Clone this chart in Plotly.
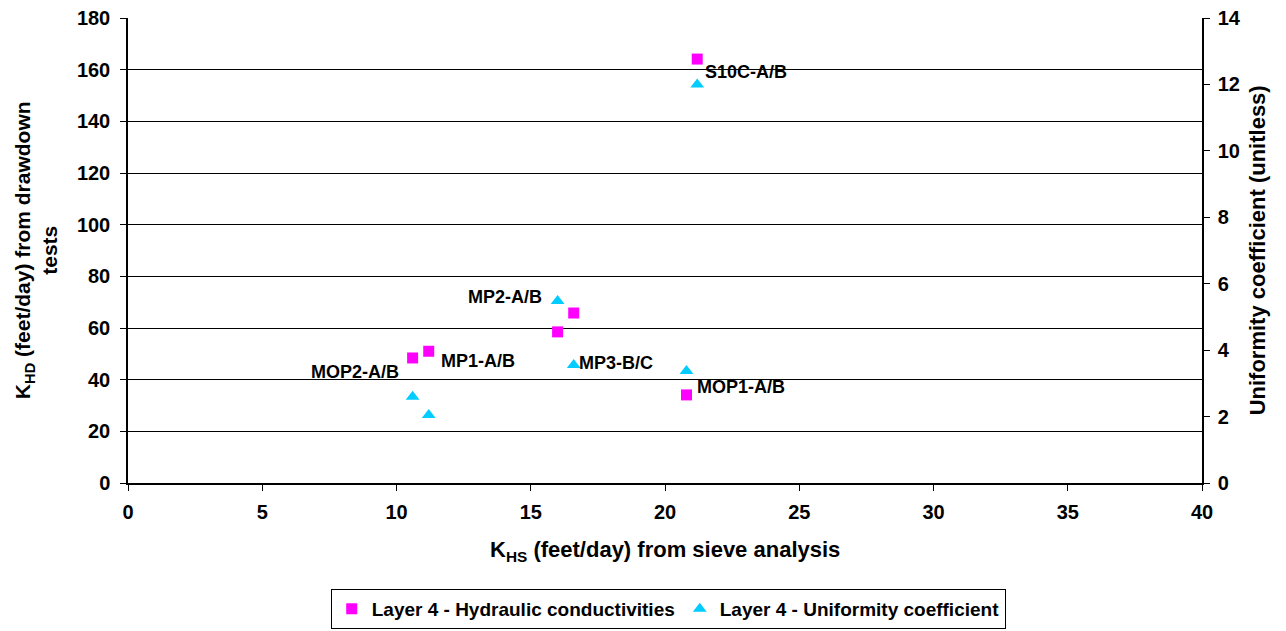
import plotly.graph_objects as go

# K_HS from sieve analysis (feet/day)
khs = [10.6, 11.2, 16.0, 16.6, 20.8, 21.2]
# K_HD from drawdown tests (feet/day)
khd = [48.4, 51.0, 58.5, 65.8, 34.1, 164.1]
# uniformity coefficient (unitless)
uc = [2.6, 2.05, 5.48, 3.55, 3.37, 12.0]
well_names = ["MOP2-A/B", "MP1-A/B", "MP2-A/B", "MP3-B/C", "MOP1-A/B", "S10C-A/B"]

FONT = "Liberation Sans, Arial, sans-serif"

fig = go.Figure()
fig.add_trace(go.Scatter(
    x=khs, y=khd, mode="markers",
    name="Layer 4 - Hydraulic conductivities",
    marker=dict(symbol="square", size=11, color="#ff00ff"),
))
fig.add_trace(go.Scatter(
    x=khs, y=uc, mode="markers", yaxis="y2",
    name="Layer 4 - Uniformity coefficient",
    marker=dict(symbol="triangle-up", size=12, color="#00ccff"),
))

# label placement: (series axis, xanchor, xshift, yshift)
label_pos = [
    ("y", "right", -12, -14),
    ("y", "left", 10, -10),
    ("y2", "right", -14, 4),
    ("y2", "left", 3, 2),
    ("y", "left", 9, 8),
    ("y", "left", 6, -13),
]
for i, name in enumerate(well_names):
    ax, anchor, dx, dy = label_pos[i]
    fig.add_annotation(
        x=khs[i], y=khd[i] if ax == "y" else uc[i], yref=ax,
        text=name, showarrow=False,
        xanchor=anchor, yanchor="middle", xshift=dx, yshift=dy,
        font=dict(family=FONT, size=18, color="black", weight="bold"),
    )

tickfont = dict(family=FONT, size=20, color="black", weight="bold")
titlefont = dict(family=FONT, size=22, color="black", weight="bold")

# axis titles
fig.add_annotation(text="K<sub>HS</sub> (feet/day) from sieve analysis",
                   xref="paper", yref="paper", x=0.5, y=-0.146,
                   xanchor="center", yanchor="middle", showarrow=False, font=titlefont)
fig.add_annotation(text="K<sub>HD</sub> (feet/day) from drawdown<br>tests",
                   xref="paper", yref="paper", x=-0.086, y=0.5, textangle=-90,
                   xanchor="center", yanchor="middle", showarrow=False,
                   font=dict(family=FONT, size=21, color="black", weight="bold"))
fig.add_annotation(text="Uniformity coefficient (unitless)",
                   xref="paper", yref="paper", x=1.052, y=0.5, textangle=-90,
                   xanchor="center", yanchor="middle", showarrow=False, font=titlefont)

fig.update_layout(
    width=1286, height=631,
    margin=dict(l=120, r=92, t=10, b=156, autoexpand=False),
    plot_bgcolor="white", paper_bgcolor="white",
    font=dict(family=FONT, color="black"),
    showlegend=True,
    legend=dict(
        orientation="h", x=0.503, xanchor="center", y=-0.271, yanchor="middle",
        bordercolor="black", borderwidth=1,
        font=dict(family=FONT, size=19, color="black", weight="bold"),
        itemwidth=30, tracegroupgap=0,
    ),
    xaxis=dict(
        range=[0, 40], dtick=5, showgrid=False, zeroline=False,
        showline=True, linecolor="black", linewidth=1.5,
        ticks="outside", ticklen=6, tickcolor="black", ticklabelstandoff=4,
        tickfont=tickfont, automargin=False, ticklabeloverflow="allow",
    ),
    yaxis=dict(
        range=[0, 180], dtick=20, showgrid=True, gridcolor="black", gridwidth=1,
        zeroline=False, showline=True, linecolor="black", linewidth=1.5,
        ticks="outside", ticklen=6, tickcolor="black", ticklabelstandoff=6,
        tickfont=tickfont, automargin=False, ticklabeloverflow="allow",
    ),
    yaxis2=dict(
        range=[0, 14], dtick=2, overlaying="y", side="right", showgrid=False,
        zeroline=False, showline=True, linecolor="black", linewidth=1.5,
        ticks="outside", ticklen=6, tickcolor="black", ticklabelstandoff=4,
        tickfont=tickfont, automargin=False, ticklabeloverflow="allow",
    ),
)

fig.write_html("out.html")
